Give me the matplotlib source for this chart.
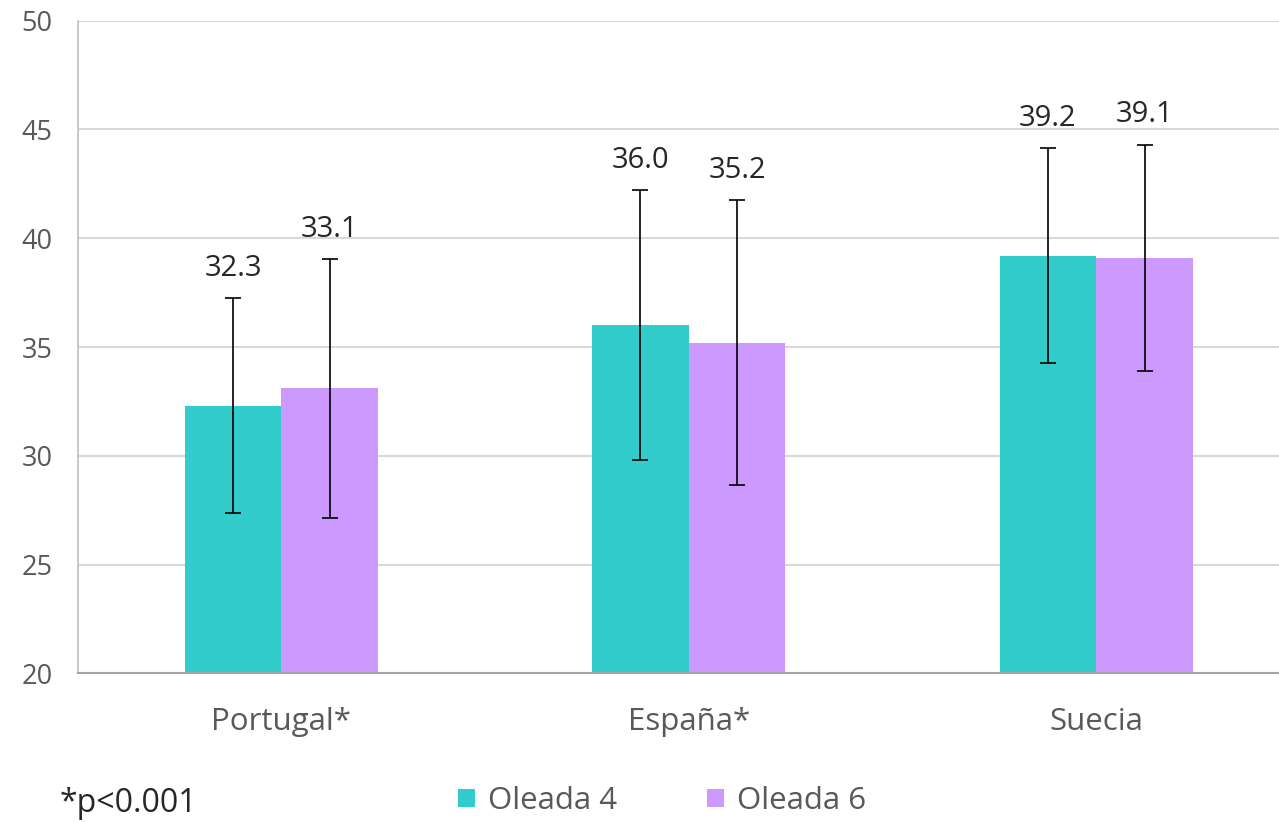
import matplotlib.pyplot as plt
import numpy as np

plt.rcParams['font.family'] = ['Open Sans', 'DejaVu Sans']

paises = ["Portugal*", "España*", "Suecia"]
oleada4 = [32.3, 36.0, 39.2]
oleada6 = [33.1, 35.2, 39.1]
err4 = [4.95, 6.2, 4.95]
err6 = [5.95, 6.55, 5.2]
yticks = [20, 25, 30, 35, 40, 45, 50]

COL4 = "#33CCCC"
COL6 = "#CC99FF"

fig = plt.figure(figsize=(12.79, 8.22), dpi=100)
ax = fig.add_axes([77.5 / 1279, 148.7 / 822, 1222.5 / 1279, 652.6 / 822])

x = np.arange(len(paises))
w = 0.237

ax.bar(x - w / 2, oleada4, w, color=COL4, label="Oleada 4", zorder=2)
ax.bar(x + w / 2, oleada6, w, color=COL6, label="Oleada 6", zorder=2)
ax.errorbar(x - w / 2, oleada4, yerr=err4, fmt="none", ecolor="black",
            elinewidth=1.2, capsize=5.8, capthick=1.2, zorder=3)
ax.errorbar(x + w / 2, oleada6, yerr=err6, fmt="none", ecolor="black",
            elinewidth=1.2, capsize=5.8, capthick=1.2, zorder=3)

# etiquetas encima de las barras de error
for xi, v, e in zip(x - w / 2, oleada4, err4):
    ax.annotate(f"{v:.1f}", (xi, v + e), xytext=(0, 11), textcoords="offset points",
                ha="center", va="bottom", fontsize=21, color="#262626")
for xi, v, e in zip(x + w / 2, oleada6, err6):
    ax.annotate(f"{v:.1f}", (xi, v + e), xytext=(0, 11), textcoords="offset points",
                ha="center", va="bottom", fontsize=21, color="#262626")

ax.set_xlim(-0.5, 2.5)
ax.set_ylim(20, 50)
ax.set_yticks(yticks)
ax.set_xticks(x)
ax.set_xticklabels(paises, fontsize=22.5)
ax.tick_params(axis="both", length=0, labelcolor="#595959")
ax.tick_params(axis="y", labelsize=19.5, pad=18)
ax.tick_params(axis="x", pad=24)
ax.grid(axis="y", color="#D9D9D9", linewidth=1.5, zorder=0)
ax.set_axisbelow(True)

for s in ["top", "right"]:
    ax.spines[s].set_visible(False)
ax.spines["left"].set_color("#BFBFBF")
ax.spines["bottom"].set_color("#A6A6A6")
ax.spines["left"].set_linewidth(1.2)
ax.spines["bottom"].set_linewidth(1.5)

leg = fig.legend(loc="center", bbox_to_anchor=(662 / 1279, 1 - 801 / 822), ncol=2,
                 frameon=False, fontsize=22.5, handlelength=0.55, handleheight=0.55,
                 handletextpad=0.4, columnspacing=2.9)
for t in leg.get_texts():
    t.set_color("#595959")

fig.text(60 / 1279, 1 - 803 / 822, "*p<0.001", fontsize=23, color="#262626",
         ha="left", va="center")

fig.savefig("out.png", dpi=100)
